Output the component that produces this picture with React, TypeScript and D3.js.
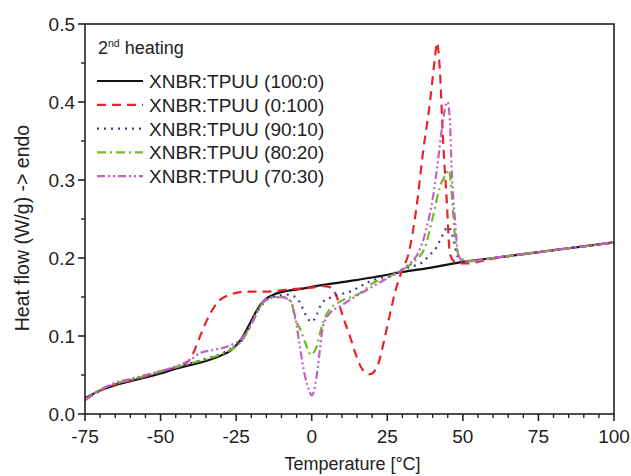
import React from "react";
import * as d3 from "d3";

// ---------- data ----------
const tBlack = [-75, -70, -65, -60, -55, -50, -45, -40, -35, -30, -27, -25, -23, -21, -19, -17, -15, -12, -8, -4, 0, 10, 20, 30, 40, 50, 60, 70, 80, 90, 100];
const hBlack = [0.020, 0.030, 0.037, 0.042, 0.047, 0.052, 0.058, 0.063, 0.068, 0.075, 0.081, 0.088, 0.098, 0.112, 0.127, 0.140, 0.148, 0.154, 0.158, 0.160, 0.163, 0.169, 0.175, 0.182, 0.188, 0.195, 0.200, 0.205, 0.210, 0.215, 0.220];

const tRed = [-75, -70, -65, -60, -55, -50, -45, -41.4, -39.2, -37, -34.7, -31.4, -27, -21.5, -15, -7, 0, 4, 6.5, 8.3, 10.3, 12.7, 14.9, 17, 19.3, 21.9, 24, 26, 28, 30, 32, 34.7, 36.8, 39.1, 40.8, 41.4, 42.4, 43.4, 44.7, 45.7, 47, 49, 52, 56, 60, 70, 80, 90, 100];
const hRed = [0.018, 0.030, 0.038, 0.043, 0.048, 0.054, 0.060, 0.065, 0.078, 0.099, 0.120, 0.142, 0.153, 0.157, 0.157, 0.160, 0.162, 0.164, 0.162, 0.150, 0.125, 0.099, 0.073, 0.056, 0.051, 0.063, 0.095, 0.130, 0.162, 0.185, 0.205, 0.266, 0.335, 0.399, 0.458, 0.476, 0.441, 0.355, 0.271, 0.206, 0.196, 0.193, 0.193, 0.196, 0.199, 0.205, 0.210, 0.215, 0.220];

const tBlue = [-75, -70, -65, -60, -55, -50, -45, -40, -35, -30, -27, -25, -23, -21, -19, -17, -15, -12, -8, -5, -3.3, -1.7, 0, 1.6, 3.3, 6.6, 12.7, 19.3, 25, 30, 33, 36.4, 39.1, 41.3, 43, 45.1, 46.7, 47.9, 49.5, 55, 60, 70, 80, 90, 100];
const hBlue = [0.018, 0.030, 0.038, 0.043, 0.048, 0.053, 0.059, 0.065, 0.071, 0.077, 0.083, 0.088, 0.095, 0.108, 0.124, 0.137, 0.146, 0.151, 0.153, 0.149, 0.138, 0.125, 0.118, 0.127, 0.142, 0.150, 0.157, 0.170, 0.177, 0.185, 0.189, 0.194, 0.204, 0.214, 0.227, 0.240, 0.227, 0.206, 0.196, 0.197, 0.200, 0.205, 0.210, 0.215, 0.220];

const tGreen = [-75, -70, -65, -60, -55, -50, -45, -41, -38, -32.6, -27, -23.7, -20.4, -17.1, -13.8, -9.4, -6.6, -5.5, -3.9, -2.2, -0.2, 1.6, 3.3, 5.4, 9.4, 16, 20.3, 25, 30, 34, 37.5, 40.1, 42.4, 44.5, 45.4, 46.3, 47.4, 49, 52, 60, 70, 80, 90, 100];
const hGreen = [0.018, 0.031, 0.039, 0.044, 0.049, 0.055, 0.060, 0.064, 0.067, 0.073, 0.082, 0.091, 0.112, 0.138, 0.148, 0.150, 0.142, 0.122, 0.110, 0.092, 0.076, 0.086, 0.112, 0.131, 0.144, 0.155, 0.168, 0.175, 0.185, 0.196, 0.214, 0.253, 0.291, 0.308, 0.313, 0.283, 0.227, 0.201, 0.196, 0.200, 0.205, 0.210, 0.215, 0.220];

const tMagenta = [-75, -70, -65, -60, -55, -50, -45, -40.3, -37, -32.6, -27, -22.6, -19.3, -16, -12.5, -10.5, -7.2, -5.5, -3.9, -2.2, -0.8, 0, 0.8, 1.6, 2.7, 3.7, 6, 9.4, 15, 20, 25, 30, 33, 35.2, 38.1, 40.1, 41.8, 43, 44.1, 44.9, 45.7, 46.3, 47.4, 48.4, 50, 55, 60, 70, 80, 90, 100];
const hMagenta = [0.018, 0.031, 0.040, 0.045, 0.050, 0.055, 0.061, 0.069, 0.078, 0.082, 0.088, 0.099, 0.120, 0.144, 0.150, 0.150, 0.146, 0.125, 0.086, 0.048, 0.030, 0.024, 0.030, 0.048, 0.082, 0.112, 0.129, 0.138, 0.152, 0.163, 0.174, 0.185, 0.195, 0.206, 0.240, 0.278, 0.326, 0.364, 0.392, 0.400, 0.377, 0.313, 0.249, 0.206, 0.196, 0.197, 0.200, 0.205, 0.210, 0.215, 0.220];

const seriesNames = ["XNBR:TPUU (100:0)", "XNBR:TPUU (0:100)", "XNBR:TPUU (90:10)", "XNBR:TPUU (80:20)", "XNBR:TPUU (70:30)"];
const seriesT = [tBlack, tRed, tBlue, tGreen, tMagenta];
const seriesH = [hBlack, hRed, hBlue, hGreen, hMagenta];
const seriesColors = ["#111111", "#e8242a", "#3b3b9c", "#6cbb2a", "#c65ec6"];
const seriesDash = ["", "9,6", "2,5", "9,4,2,4", "8,3,2,3,2,3"];

const xTicks = [-75, -50, -25, 0, 25, 50, 75, 100];
const yTicks = [0.0, 0.1, 0.2, 0.3, 0.4, 0.5];

export default function App() {
  const W = 631, H = 476;
  const left = 85, right = 614, top = 24, bottom = 414;
  const x = d3.scaleLinear().domain([-75, 100]).range([left, right]);
  const y = d3.scaleLinear().domain([0, 0.5]).range([bottom, top]);
  const font = "'Liberation Sans', Arial, sans-serif";

  const xMinor = d3.range(-75, 100.1, 5).filter((v) => !xTicks.includes(v));
  const yMinor = d3.range(0.05, 0.5, 0.1);

  const line = d3
    .line<[number, number]>()
    .x((d) => x(d[0]))
    .y((d) => y(d[1]))
    .curve(d3.curveMonotoneX);

  const legendY0 = 81, legendDy = 23.8;

  return (
    <svg width={W} height={H} style={{ position: "absolute", left: 0, top: 0, background: "#fff" }} fontFamily={font}>
      <defs>
        <clipPath id="plotclip">
          <rect x={left} y={top} width={right - left} height={bottom - top} />
        </clipPath>
      </defs>
      {/* curves */}
      <g clipPath="url(#plotclip)">
        {seriesT.map((ts, i) => {
          const pts = ts.map((t, j) => [t, seriesH[i][j]] as [number, number]);
          return (
            <path
              key={i}
              d={line(pts) || ""}
              fill="none"
              stroke={seriesColors[i]}
              strokeWidth={2.2}
              strokeDasharray={seriesDash[i] || undefined}
            />
          );
        })}
      </g>
      {/* frame */}
      <rect x={left} y={top} width={right - left} height={bottom - top} fill="none" stroke="#222" strokeWidth={1.6} />
      {/* x ticks */}
      {xTicks.map((v) => (
        <g key={"xt" + v}>
          <line x1={x(v)} x2={x(v)} y1={bottom} y2={bottom + 7} stroke="#222" strokeWidth={1.6} />
          <text x={x(v)} y={bottom + 29} textAnchor="middle" fontSize={19} fill="#222">
            {v}
          </text>
        </g>
      ))}
      {xMinor.map((v) => (
        <line key={"xm" + v} x1={x(v)} x2={x(v)} y1={bottom} y2={bottom + 4} stroke="#222" strokeWidth={1.4} />
      ))}
      {/* y ticks */}
      {yTicks.map((v) => (
        <g key={"yt" + v}>
          <line x1={left - 7} x2={left} y1={y(v)} y2={y(v)} stroke="#222" strokeWidth={1.6} />
          <text x={left - 10} y={y(v) + 7} textAnchor="end" fontSize={19} fill="#222">
            {v.toFixed(1)}
          </text>
        </g>
      ))}
      {yMinor.map((v) => (
        <line key={"ym" + v} x1={left - 4} x2={left} y1={y(v)} y2={y(v)} stroke="#222" strokeWidth={1.4} />
      ))}
      {/* axis titles */}
      <text x={(left + right) / 2 + 3} y={470} textAnchor="middle" fontSize={18} fill="#222">
        Temperature [°C]
      </text>
      <text
        transform={`translate(29, 228) rotate(-90)`}
        textAnchor="middle"
        fontSize={19.5}
        fill="#222"
      >
        Heat flow (W/g) -&gt; endo
      </text>
      {/* legend */}
      <text x={98} y={54} fontSize={18} fill="#222">
        2<tspan dy={-7} fontSize={10.5}>nd</tspan>
        <tspan dy={7}> heating</tspan>
      </text>
      {seriesNames.map((name, i) => {
        const ly = legendY0 + i * legendDy;
        return (
          <g key={"lg" + i}>
            <line
              x1={97}
              x2={143}
              y1={ly}
              y2={ly}
              stroke={seriesColors[i]}
              strokeWidth={2.2}
              strokeDasharray={seriesDash[i] || undefined}
            />
            <text x={149} y={ly + 7} fontSize={19} fill="#222">
              {name}
            </text>
          </g>
        );
      })}
    </svg>
  );
}
